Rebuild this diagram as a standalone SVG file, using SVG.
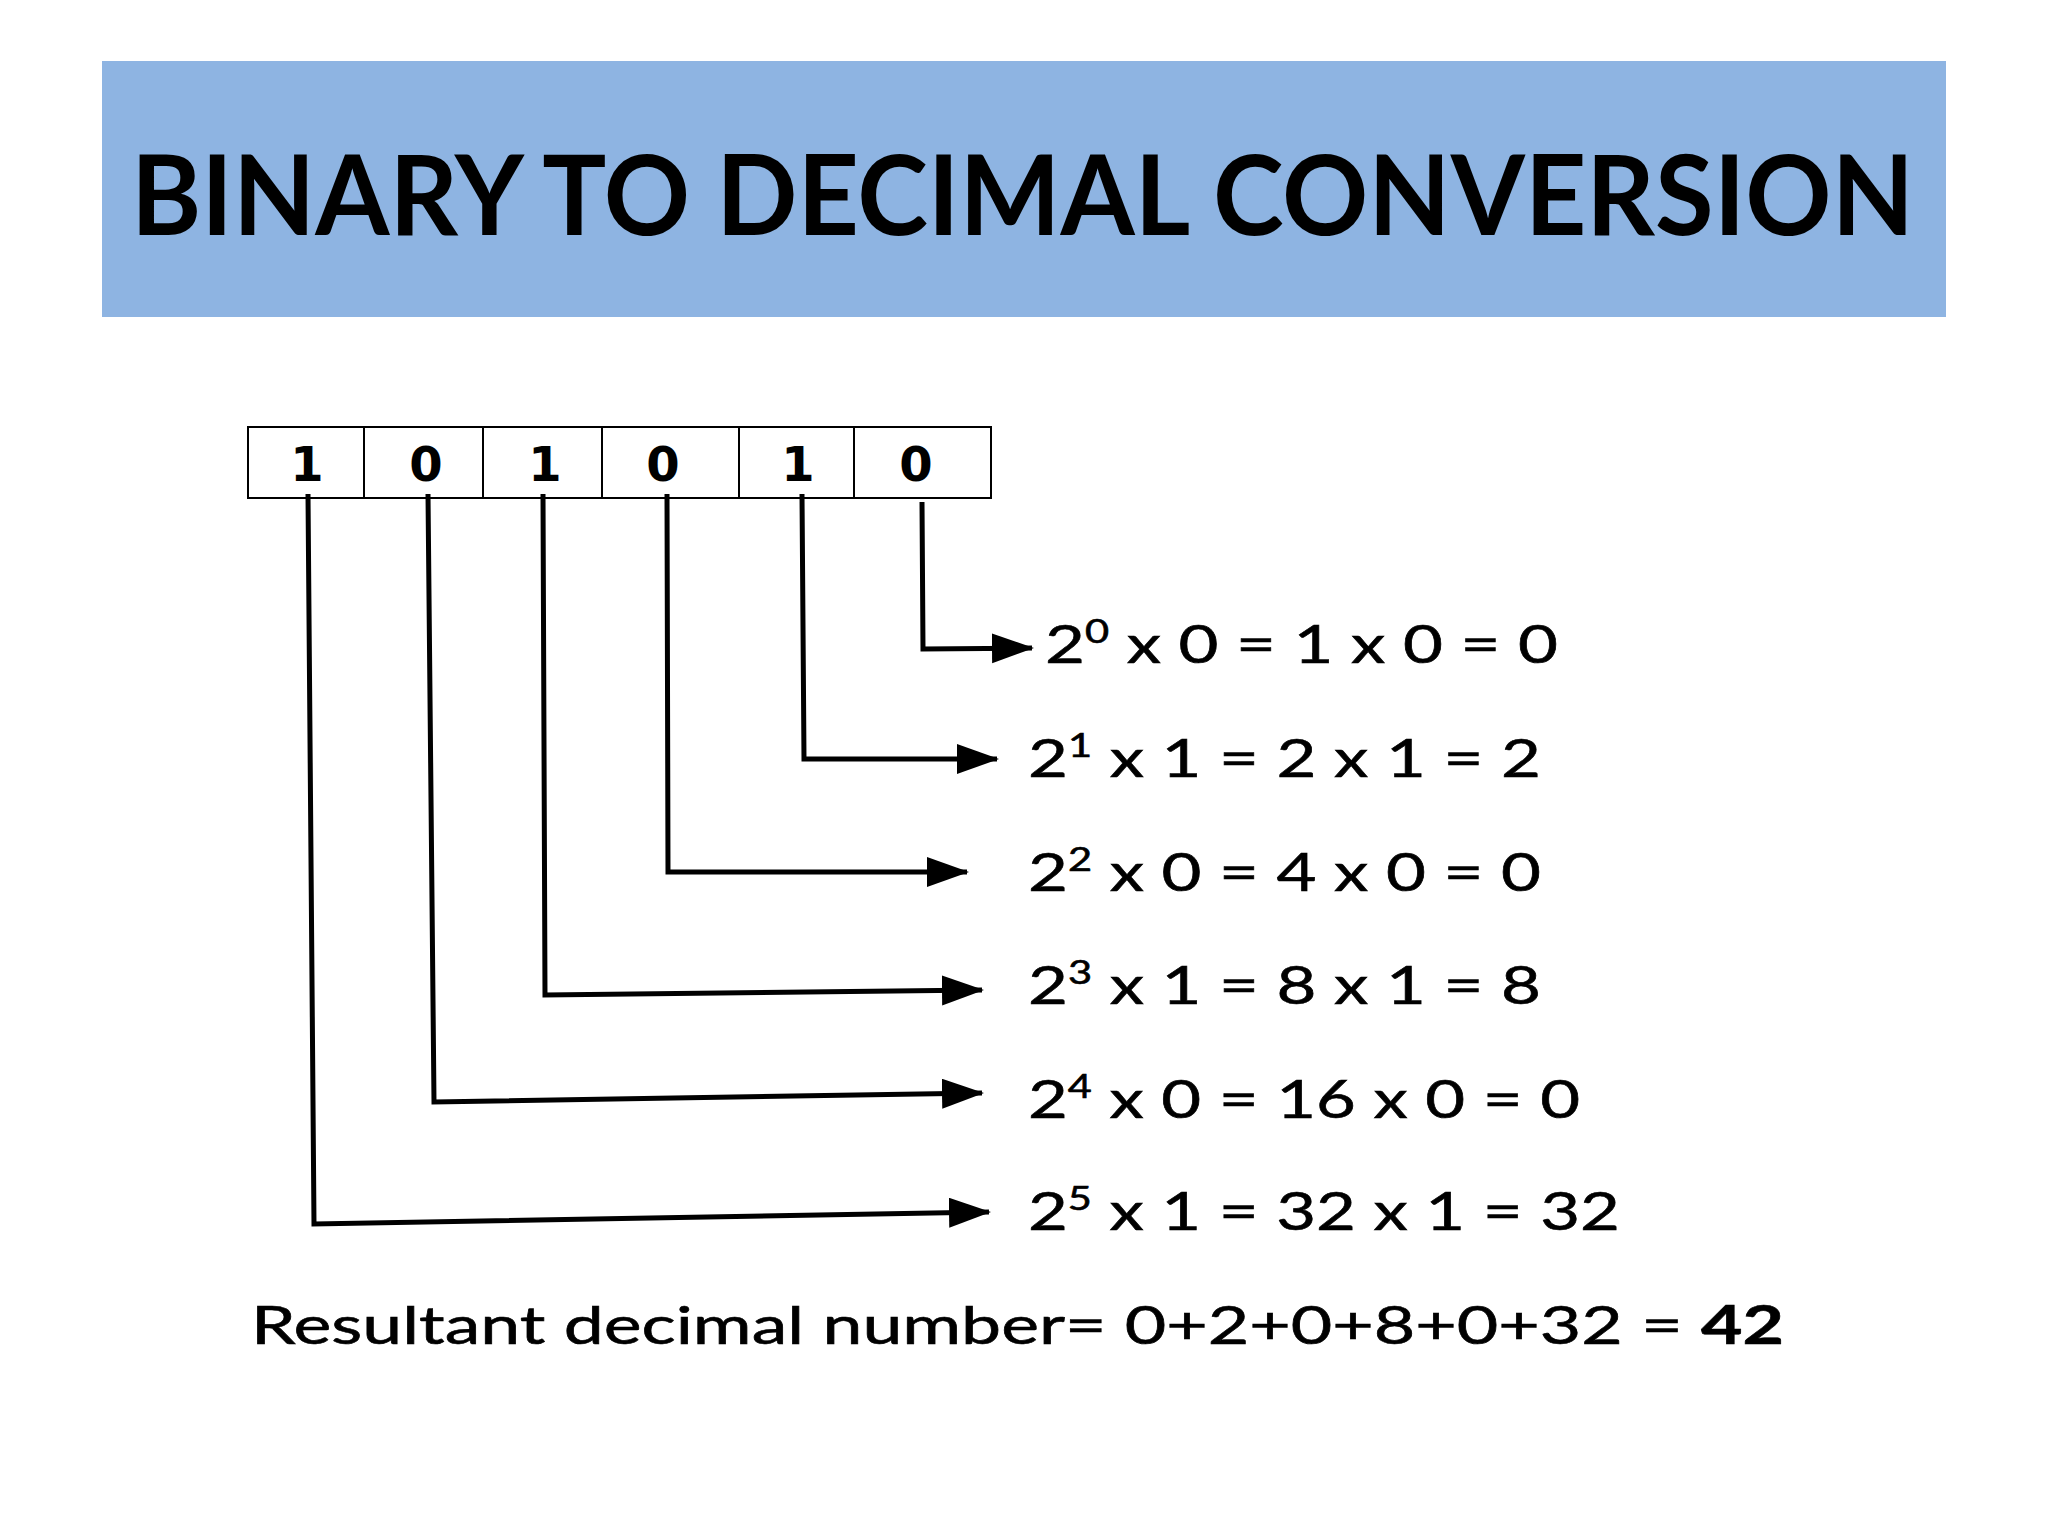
<svg xmlns="http://www.w3.org/2000/svg" width="2048" height="1536" viewBox="0 0 2048 1536">
<style>
.title{font-family:Lato,"Open Sans","Liberation Sans",sans-serif;font-weight:bold;font-size:112px;fill:#000}
.bit{font-family:"DejaVu Sans",sans-serif;font-weight:bold;font-size:48px;fill:#000;text-anchor:middle}
.eq{font-family:Lato,"Open Sans","Liberation Sans",sans-serif;font-size:53px;fill:#000;stroke:#000;stroke-width:0.6}
.sup{font-size:32px}
.cell{fill:#fff;stroke:#000;stroke-width:2}
.conn{fill:none;stroke:#000;stroke-width:5;stroke-linejoin:miter}
</style>
<defs>
<marker id="arr" markerUnits="userSpaceOnUse" markerWidth="44" markerHeight="32" refX="40" refY="15" orient="auto">
<path d="M0,0 L42,15 L0,30 z" fill="#000"/>
</marker>
</defs>
<rect width="2048" height="1536" fill="#fff"/>
<g id="title">
<rect x="102" y="61" width="1844" height="256" fill="#8EB4E2"/>
<text class="title" x="131" y="235" textLength="1783" lengthAdjust="spacingAndGlyphs">BINARY TO DECIMAL CONVERSION</text>
</g>
<g id="bits">
<rect class="cell" x="248" y="427" width="116" height="71"/>
<rect class="cell" x="364" y="427" width="119" height="71"/>
<rect class="cell" x="483" y="427" width="119" height="71"/>
<rect class="cell" x="602" y="427" width="137" height="71"/>
<rect class="cell" x="739" y="427" width="115" height="71"/>
<rect class="cell" x="854" y="427" width="137" height="71"/>
<text class="bit" x="307" y="481">1</text>
<text class="bit" x="426" y="481">0</text>
<text class="bit" x="545" y="481">1</text>
<text class="bit" x="663" y="481">0</text>
<text class="bit" x="798" y="481">1</text>
<text class="bit" x="916" y="481">0</text>
</g>
<g id="connectors">
<path class="conn" marker-end="url(#arr)" d="M922,502 L923,649 L1032,648"/>
<path class="conn" marker-end="url(#arr)" d="M802,494 L804,759 L997,759"/>
<path class="conn" marker-end="url(#arr)" d="M667,494 L668,872 L967,872"/>
<path class="conn" marker-end="url(#arr)" d="M543,494 L545,995 L982,990"/>
<path class="conn" marker-end="url(#arr)" d="M428,494 L434,1102 L982,1093"/>
<path class="conn" marker-end="url(#arr)" d="M308,494 L314,1224 L989,1212"/>
</g>
<g id="row0"><text class="eq" x="1045" y="663" textLength="513" lengthAdjust="spacingAndGlyphs">2<tspan class="sup" dy="-20">0</tspan><tspan dy="20"> x 0 = 1 x 0 = 0</tspan></text></g>
<g id="row1"><text class="eq" x="1028" y="777" textLength="513" lengthAdjust="spacingAndGlyphs">2<tspan class="sup" dy="-20">1</tspan><tspan dy="20"> x 1 = 2 x 1 = 2</tspan></text></g>
<g id="row2"><text class="eq" x="1028" y="891" textLength="513" lengthAdjust="spacingAndGlyphs">2<tspan class="sup" dy="-20">2</tspan><tspan dy="20"> x 0 = 4 x 0 = 0</tspan></text></g>
<g id="row3"><text class="eq" x="1028" y="1004" textLength="513" lengthAdjust="spacingAndGlyphs">2<tspan class="sup" dy="-20">3</tspan><tspan dy="20"> x 1 = 8 x 1 = 8</tspan></text></g>
<g id="row4"><text class="eq" x="1028" y="1118" textLength="552" lengthAdjust="spacingAndGlyphs">2<tspan class="sup" dy="-20">4</tspan><tspan dy="20"> x 0 = 16 x 0 = 0</tspan></text></g>
<g id="row5"><text class="eq" x="1028" y="1230" textLength="592" lengthAdjust="spacingAndGlyphs">2<tspan class="sup" dy="-20">5</tspan><tspan dy="20"> x 1 = 32 x 1 = 32</tspan></text></g>
<g id="result"><text class="eq" x="251" y="1344" textLength="1533" lengthAdjust="spacingAndGlyphs">Resultant decimal number= 0+2+0+8+0+32 = <tspan font-weight="bold">42</tspan></text></g>
</svg>
